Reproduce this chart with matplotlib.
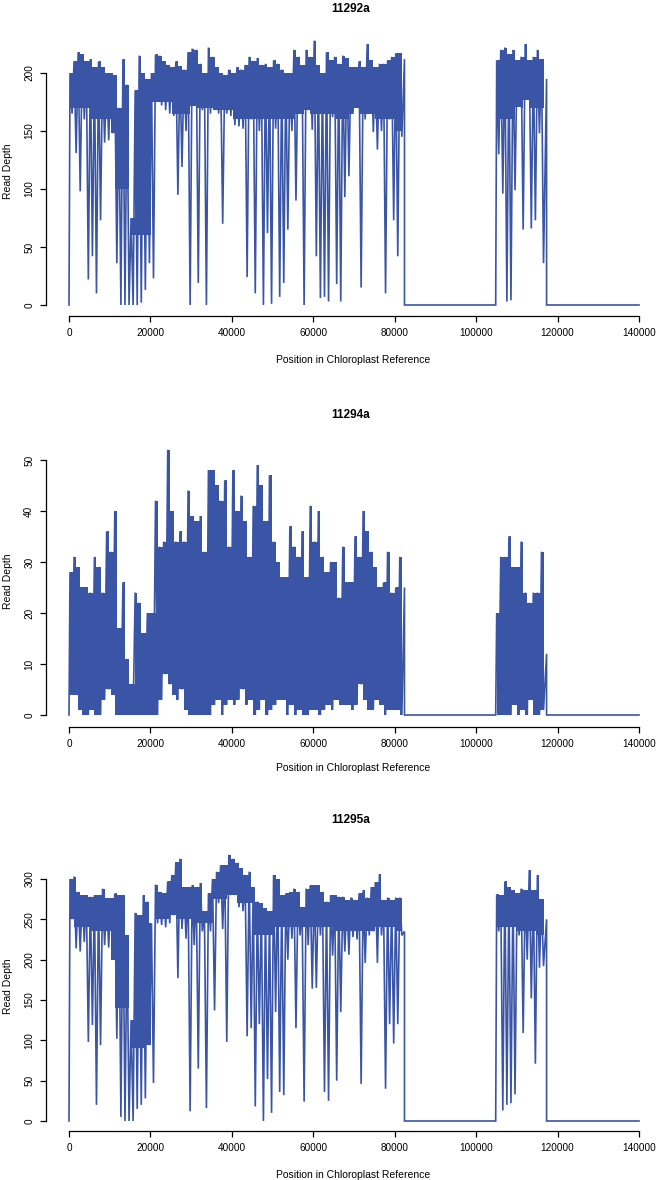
import matplotlib
matplotlib.use('Agg')
import matplotlib.pyplot as plt

# read depth along the chloroplast reference, one (max, min) pair per 1 kb bin
ref_len = 140000
bin_bp = 1000
core_bp = 5000        # resolution of the dense-band floor below
left_end = 82400      # coverage drops to zero here
right_start = 104800  # and comes back here
right_end = 117300

samples = ['11292a', '11294a', '11295a']

hi_11292a = [200, 210, 218, 216, 210, 212, 205, 210, 205, 200, 200, 198, 170, 212, 190, 75,
             185, 215, 200, 195, 200, 216, 215, 210, 207, 205, 210, 206, 203, 218, 221, 220,
             208, 200, 222, 214, 205, 200, 198, 203, 200, 205, 203, 207, 214, 210, 213, 207,
             208, 205, 211, 208, 203, 200, 200, 220, 214, 207, 220, 214, 228, 207, 200, 218,
             211, 214, 208, 215, 213, 205, 205, 210, 205, 225, 211, 205, 208, 208, 211, 214,
             217, 217]
lo_11292a = [165, 131, 98, 160, 22, 42, 10, 73, 140, 142, 148, 36, 0, 0, 0, 0,
             0, 2, 13, 36, 23, 175, 172, 168, 165, 163, 95, 119, 150, 0, 172, 19,
             168, 0, 165, 168, 165, 70, 165, 163, 155, 154, 152, 24, 160, 10, 150, 0,
             62, 1, 152, 7, 19, 65, 150, 90, 165, 0, 168, 151, 42, 6, 7, 3,
             162, 18, 3, 93, 111, 165, 170, 15, 160, 165, 149, 134, 150, 10, 160, 73,
             42, 145]
core_11292a = [170, 160, 100, 60, 175, 165, 170, 168, 160, 160, 160, 165, 165, 160, 165, 160,
               150]
hi_11292a_r = [211, 220, 222, 216, 220, 211, 214, 225, 211, 214, 220, 212]
lo_11292a_r = [130, 96, 3, 4, 99, 171, 65, 177, 66, 73, 148, 36]
core_11292a_r = [160, 170, 170]

hi_11294a = [28, 31, 29, 25, 25, 24, 31, 29, 24, 36, 32, 40, 17, 26, 11, 6,
             24, 22, 16, 20, 20, 42, 33, 34, 52, 40, 34, 36, 34, 44, 39, 38,
             39, 32, 48, 48, 45, 42, 46, 33, 48, 40, 43, 38, 31, 41, 49, 45,
             38, 47, 34, 30, 27, 27, 37, 33, 31, 36, 27, 41, 34, 40, 31, 28,
             30, 30, 23, 33, 26, 26, 35, 31, 40, 36, 32, 29, 25, 26, 32, 24,
             25, 31]
lo_11294a = [4, 4, 1, 0, 0, 1, 0, 0, 3, 5, 4, 0, 0, 0, 0, 0,
             0, 0, 0, 0, 0, 0, 3, 8, 6, 4, 3, 5, 1, 0, 0, 0,
             0, 0, 0, 2, 3, 0, 2, 3, 2, 3, 5, 2, 3, 0, 1, 3,
             0, 1, 2, 3, 3, 0, 2, 0, 1, 0, 0, 1, 1, 0, 1, 2,
             1, 3, 2, 2, 2, 1, 2, 6, 3, 1, 1, 3, 2, 0, 1, 1,
             1, 0]
core_11294a = [0, 0, 0, 0, 0, 0, 0, 0, 0, 0, 0, 0, 0, 0, 0, 0, 0]
hi_11294a_r = [20, 31, 31, 35, 29, 29, 34, 24, 22, 24, 24, 32]
lo_11294a_r = [0, 0, 0, 0, 2, 0, 1, 0, 3, 0, 0, 1]
core_11294a_r = [0, 0, 0]

hi_11295a = [300, 303, 284, 280, 280, 278, 280, 280, 288, 276, 276, 282, 280, 280, 230, 125,
             258, 255, 280, 272, 245, 293, 284, 282, 297, 305, 321, 325, 290, 290, 292, 290,
             295, 260, 282, 300, 309, 317, 317, 330, 325, 320, 313, 305, 309, 290, 272, 270,
             264, 260, 305, 300, 280, 282, 284, 288, 284, 265, 288, 292, 292, 292, 284, 272,
             280, 280, 278, 278, 274, 277, 274, 282, 286, 277, 290, 296, 306, 274, 277, 274,
             277, 277]
lo_11295a = [250, 214, 210, 222, 98, 119, 20, 94, 218, 215, 200, 102, 5, 0, 0, 0,
             15, 20, 28, 94, 47, 245, 243, 240, 245, 255, 177, 238, 226, 12, 218, 65,
             235, 16, 235, 137, 270, 238, 98, 280, 280, 265, 260, 105, 115, 18, 120, 0,
             52, 10, 135, 36, 32, 200, 226, 115, 230, 24, 218, 164, 165, 230, 36, 25,
             205, 50, 135, 210, 206, 228, 225, 46, 196, 230, 235, 196, 230, 40, 120, 96,
             120, 230]
core_11295a = [240, 235, 140, 90, 250, 250, 245, 275, 270, 230, 240, 240, 240, 235, 235, 240,
               235]
hi_11295a_r = [281, 280, 297, 290, 286, 282, 288, 286, 311, 286, 305, 275]
lo_11295a_r = [235, 13, 20, 22, 33, 230, 109, 200, 152, 71, 190, 192]
core_11295a_r = [240, 235, 230]

# depth just before each drop to zero (left block, right block)
edge_11292a = [212, 195]
edge_11294a = [25, 12]
edge_11295a = [235, 250]

highs = [(hi_11292a, hi_11292a_r), (hi_11294a, hi_11294a_r), (hi_11295a, hi_11295a_r)]
lows = [(lo_11292a, lo_11292a_r), (lo_11294a, lo_11294a_r), (lo_11295a, lo_11295a_r)]
cores = [(core_11292a, core_11292a_r), (core_11294a, core_11294a_r),
         (core_11295a, core_11295a_r)]
edges = [edge_11292a, edge_11294a, edge_11295a]
yticks = [[0, 50, 100, 150, 200], [0, 10, 20, 30, 40, 50], [0, 50, 100, 150, 200, 250, 300]]
xticks = [0, 20000, 40000, 60000, 80000, 100000, 120000, 140000]

W, H = 659, 1180
LINE = '#3a55a6'
FONT = 'Liberation Sans'

# pixel boxes (left, top, right, bottom) and y limits of each panel
boxes = [(46, 30, 650, 316), (46, 440, 650, 727), (46, 845, 650, 1131)]
ylims = [(-9.5, 237.1), (-2.35, 53.9), (-12.4, 342.1)]
title_y = [9, 415, 820]
xlabel_y = [360, 768, 1175]


def zigzag(start, hi, lo):
    xs, ys = [], []
    for k in range(len(hi)):
        xs += [start + k * bin_bp + 0.25 * bin_bp, start + k * bin_bp + 0.75 * bin_bp]
        ys += [hi[k], lo[k]]
    return xs, ys


def band(ax, start, hi, lo, core):
    # dense part of the trace: each bin's range and the range shared with
    # the next bin, cut off at the floor of the band (dips stay thin lines)
    step = core_bp // bin_bp
    n = len(hi)
    lefts, bots, tops = [], [], []
    for k in range(n):
        lefts.append(start + k * bin_bp + 0.25 * bin_bp)
        bots.append(max(lo[k], core[k // step]))
        tops.append(hi[k])
        if k < n - 1:
            lefts.append(start + k * bin_bp + 0.75 * bin_bp)
            bots.append(max(lo[k], lo[k + 1], core[k // step]))
            tops.append(min(hi[k], hi[k + 1]))
    keep = [j for j in range(len(lefts)) if tops[j] > bots[j]]
    ax.bar([lefts[j] for j in keep], [tops[j] - bots[j] for j in keep],
           bottom=[bots[j] for j in keep], width=0.5 * bin_bp, align='edge',
           color=LINE, lw=0)


fig = plt.figure(figsize=(W / 100, H / 100), dpi=100)

for i, name in enumerate(samples):
    l, t, r, b = boxes[i]
    ax = fig.add_axes([l / W, 1 - b / H, (r - l) / W, (b - t) / H])
    lx, ly = zigzag(0, highs[i][0], lows[i][0])
    rx, ry = zigzag(right_start, highs[i][1], lows[i][1])
    x = [0] + lx + [left_end, left_end, right_start] + rx + [right_end, right_end, ref_len]
    y = [0] + ly + [edges[i][0], 0, 0] + ry + [edges[i][1], 0, 0]
    band(ax, 0, highs[i][0], lows[i][0], cores[i][0])
    band(ax, right_start, highs[i][1], lows[i][1], cores[i][1])
    ax.plot(x, y, color=LINE, lw=1.2, solid_joinstyle='miter')

    ax.set_xlim(-5649, 142702)
    ax.set_ylim(*ylims[i])
    for s in ['top', 'right']:
        ax.spines[s].set_visible(False)
    ax.spines['left'].set_bounds(yticks[i][0], yticks[i][-1])
    ax.spines['bottom'].set_bounds(0, ref_len)
    for s in ['left', 'bottom']:
        ax.spines[s].set_linewidth(0.9)
    ax.set_xticks(xticks)
    ax.set_xticklabels([str(v) for v in xticks], fontsize=7.2, family=FONT)
    ax.set_yticks(yticks[i])
    ax.set_yticklabels([str(v) for v in yticks[i]], fontsize=7.2, family=FONT,
                       rotation=90, va='center')
    ax.tick_params(direction='out', length=4.5, width=0.9, pad=4)

    fig.text(351 / W, 1 - title_y[i] / H, name, ha='center', va='center',
             fontsize=8.5, fontweight='bold', family=FONT)
    fig.text(353 / W, 1 - xlabel_y[i] / H, 'Position in Chloroplast Reference',
             ha='center', va='center', fontsize=7.5, family=FONT)
    fig.text(8 / W, 1 - ((t + b) / 2 - 2) / H, 'Read Depth', ha='center', va='center',
             rotation=90, fontsize=7.5, family=FONT)

fig.savefig('out.png', dpi=100)
